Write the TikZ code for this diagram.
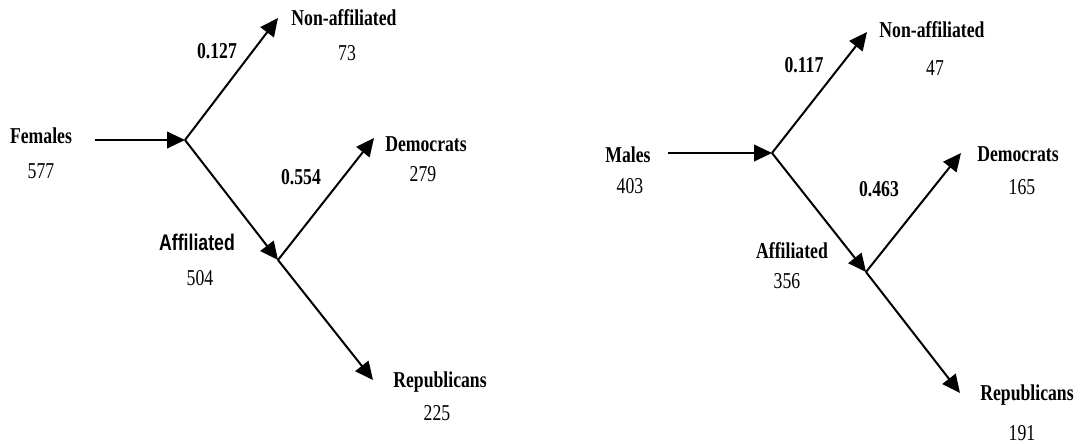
\documentclass[tikz,border=0pt]{standalone}
\usepackage{fontspec}
\setmainfont{Liberation Serif}[FakeStretch=0.78]
\setsansfont{Liberation Sans}[FakeStretch=0.78]
\usetikzlibrary{arrows.meta}
\begin{document}
\begin{tikzpicture}[x=0.75pt,y=-0.75pt,
  lbl/.style={font=\fontsize{17}{19}\selectfont\bfseries, inner sep=0, anchor=base},
  slbl/.style={font=\fontsize{17}{19}\selectfont\sffamily\bfseries, inner sep=0, anchor=base},
  num/.style={font=\fontsize{17}{19}\selectfont, inner sep=0, anchor=base},
  arr/.style={line width=1.5pt, -{Triangle[length=13.5pt,width=12.5pt]}}]
\useasboundingbox (0,0) rectangle (1083,444);

% ---------- left tree (females) ----------
\node[lbl] (fem) at (41,143) {Females};
\node[num] (n577) at (41,178) {577};
\node[lbl] (p127) at (217,58) {0.127};
\node[lbl] (nonaffL) at (344,25) {Non-affiliated};
\node[num] (n73) at (347,60) {73};
\node[lbl] (p554) at (301,184) {0.554};
\node[lbl] (demL) at (426,151) {Democrats};
\node[num] (n279) at (423,181) {279};
\node[slbl] (affL) at (197,250) {Affiliated};
\node[num] (n504) at (200,285) {504};
\node[lbl] (repL) at (440,387) {Republicans};
\node[num] (n225) at (437,420) {225};

\coordinate (sL) at (95,140);
\coordinate (j1L) at (185,140);
\coordinate (tNL) at (278,18);
\coordinate (j2L) at (278,260);
\coordinate (tDL) at (374,138);
\coordinate (tRL) at (373,380);

\draw[arr] (sL) -- (j1L);
\draw[arr] (j1L) -- (tNL);
\draw[arr] (j1L) -- (j2L);
\draw[arr] (j2L) -- (tDL);
\draw[arr] (j2L) -- (tRL);

% ---------- right tree (males) ----------
\node[lbl] (males) at (628,162) {Males};
\node[num] (n403) at (630,193) {403};
\node[lbl] (p117) at (804,72) {0.117};
\node[lbl] (nonaffR) at (932,37) {Non-affiliated};
\node[num] (n47) at (935,75) {47};
\node[lbl] (demR) at (1018,161) {Democrats};
\node[num] (n165) at (1022,194) {165};
\node[lbl] (p463) at (879,196) {0.463};
\node[lbl] (affR) at (792,258) {Affiliated};
\node[num] (n356) at (787,288) {356};
\node[lbl] (repR) at (1027,400) {Republicans};
\node[num] (n191) at (1022,440) {191};

\coordinate (sR) at (668,153);
\coordinate (j1R) at (772,153);
\coordinate (tNR) at (867,32);
\coordinate (j2R) at (866,272);
\coordinate (tDR) at (961,153);
\coordinate (tRR) at (960,393);

\draw[arr] (sR) -- (j1R);
\draw[arr] (j1R) -- (tNR);
\draw[arr] (j1R) -- (j2R);
\draw[arr] (j2R) -- (tDR);
\draw[arr] (j2R) -- (tRR);
\end{tikzpicture}
\end{document}
